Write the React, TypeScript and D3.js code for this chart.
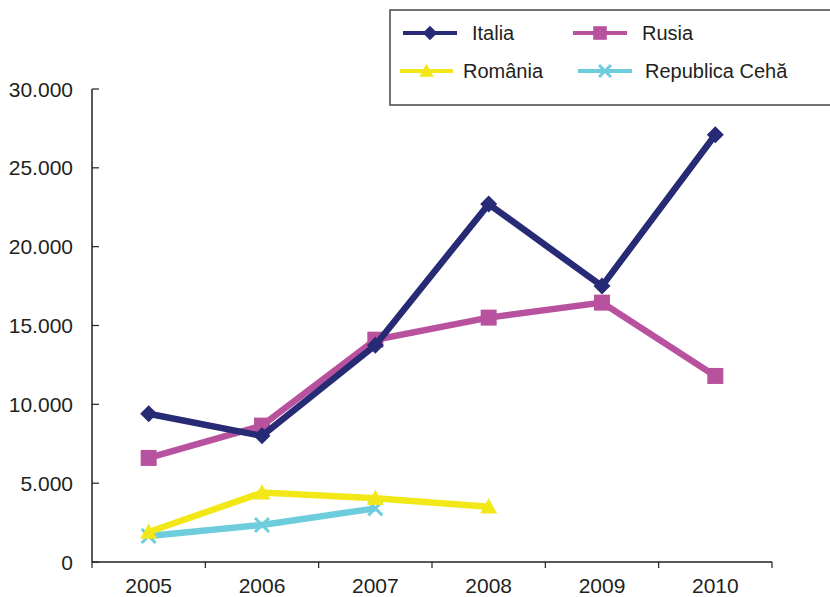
import React from "react";
import * as d3 from "d3";

const years = ["2005", "2006", "2007", "2008", "2009", "2010"];
const italia = [9400, 8000, 13750, 22700, 17500, 27100];
const rusia = [6600, 8650, 14100, 15500, 16450, 11800];
const romania = [1900, 4400, 4050, 3500];
const ceha = [1650, 2350, 3400];
const yTicks = [0, 5000, 10000, 15000, 20000, 25000, 30000];

type Marker = "diamond" | "square" | "triangle" | "cross";
interface Series {
  name: string;
  values: number[];
  color: string;
  marker: Marker;
}

const series: Series[] = [
  { name: "Italia", values: italia, color: "#272a74", marker: "diamond" },
  { name: "Rusia", values: rusia, color: "#b8529f", marker: "square" },
  { name: "România", values: romania, color: "#f2e818", marker: "triangle" },
  { name: "Republica Cehă", values: ceha, color: "#6dcddc", marker: "cross" },
];

const W = 830;
const H = 597;
const left = 92;
const right = 772;
const top = 89;
const bottom = 562;

const fmt = (v: number) => (v === 0 ? "0" : d3.format(",")(v).replace(/,/g, "."));

function MarkerShape({ type, x, y, color, k = 1 }: { type: Marker; x: number; y: number; color: string; k?: number }) {
  if (type === "diamond") {
    const s = 8.5 * k;
    return <path d={`M${x},${y - s}L${x + s},${y}L${x},${y + s}L${x - s},${y}Z`} fill={color} />;
  }
  if (type === "square") {
    const s = 8 * k;
    return <rect x={x - s} y={y - s} width={2 * s} height={2 * s} fill={color} />;
  }
  if (type === "triangle") {
    const s = 8.5 * k;
    return <path d={`M${x},${y - s}L${x + s},${y + s * 0.8}L${x - s},${y + s * 0.8}Z`} fill={color} />;
  }
  const s = 7 * k;
  return (
    <path
      d={`M${x - s},${y - s}L${x + s},${y + s}M${x - s},${y + s}L${x + s},${y - s}`}
      stroke={color}
      strokeWidth={3}
    />
  );
}

export default function App() {
  const x = d3.scaleBand<string>().domain(years).range([left, right]);
  const y = d3.scaleLinear().domain([0, 30000]).range([bottom, top]);
  const cx = (i: number) => (x(years[i]) as number) + x.bandwidth() / 2;
  const line = d3
    .line<number>()
    .x((_, i) => cx(i))
    .y((d) => y(d));

  const font = "'Liberation Sans', Arial, sans-serif";
  const boundaries = years.map((yr) => x(yr) as number).concat([right]);

  const legend = [
    { s: series[0], lx1: 403, lx2: 457, ly: 33, tx: 472 },
    { s: series[1], lx1: 573, lx2: 627, ly: 33, tx: 642 },
    { s: series[2], lx1: 400, lx2: 453, ly: 71, tx: 463 },
    { s: series[3], lx1: 578, lx2: 632, ly: 71, tx: 645 },
  ];

  return (
    <svg
      width={W}
      height={H}
      style={{ position: "absolute", left: 0, top: 0, background: "#fff" }}
      fontFamily={font}
    >
      {/* y axis */}
      <line x1={left} x2={left} y1={top} y2={bottom} stroke="#222" strokeWidth={1.5} />
      {yTicks.map((t) => (
        <g key={t}>
          <line x1={left} x2={left + 7} y1={y(t)} y2={y(t)} stroke="#222" strokeWidth={1.2} />
          <text x={73} y={y(t)} dy="0.36em" textAnchor="end" fontSize={21} fill="#231f20">
            {fmt(t)}
          </text>
        </g>
      ))}
      {/* x axis */}
      <line x1={left} x2={right} y1={bottom} y2={bottom} stroke="#222" strokeWidth={1.5} />
      {boundaries.map((b, i) => (
        <line key={i} x1={b} x2={b} y1={bottom} y2={bottom + 6} stroke="#222" strokeWidth={1.2} />
      ))}
      {years.map((yr, i) => (
        <text key={yr} x={cx(i)} y={593} textAnchor="middle" fontSize={21} fill="#231f20">
          {yr}
        </text>
      ))}
      {/* series lines and markers, drawn bottom-up */}
      {[...series].reverse().map((s) => (
        <g key={s.name}>
          <path d={line(s.values) || ""} fill="none" stroke={s.color} strokeWidth={6.5} strokeLinejoin="miter" />
          {s.values.map((v, i) => (
            <MarkerShape key={i} type={s.marker} x={cx(i)} y={y(v)} color={s.color} />
          ))}
        </g>
      ))}
      {/* legend */}
      <rect x={390} y={10} width={460} height={95} fill="#fff" stroke="#444" strokeWidth={1.5} />
      {legend.map(({ s, lx1, lx2, ly, tx }) => (
        <g key={s.name}>
          <line x1={lx1} x2={lx2} y1={ly} y2={ly} stroke={s.color} strokeWidth={4} />
          <MarkerShape type={s.marker} x={(lx1 + lx2) / 2} y={ly} color={s.color} k={0.85} />
          <text x={tx} y={ly} dy="0.36em" fontSize={20} fill="#231f20">
            {s.name}
          </text>
        </g>
      ))}
    </svg>
  );
}
